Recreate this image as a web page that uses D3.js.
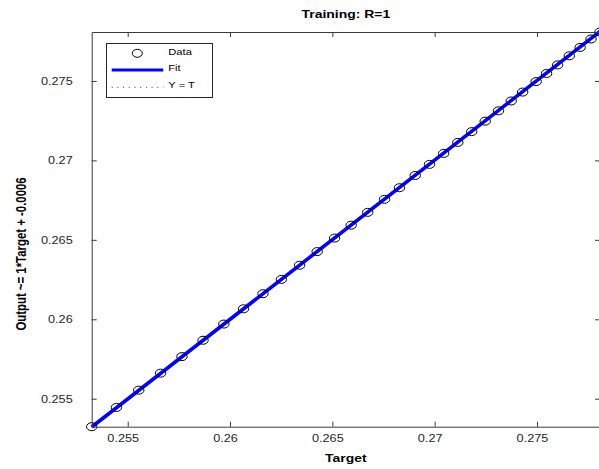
<!DOCTYPE html>
<html>
<head>
<meta charset="utf-8">
<script src="https://cdn.jsdelivr.net/npm/d3@7"></script>
<style>
  html, body { margin: 0; padding: 0; background: #fff; }
  svg { display: block; font-family: "Liberation Sans", Arial, Helvetica, sans-serif; }
</style>
</head>
<body>
<svg id="chart" width="599" height="469"></svg>
<script>
// Regression of network outputs against targets (training set)
const targets = [
  0.25324, 0.25445, 0.25554, 0.25661, 0.25765, 0.25868, 0.25970, 0.26066,
  0.26161, 0.26251, 0.26340, 0.26426, 0.26511, 0.26592, 0.26673, 0.26755,
  0.26828, 0.26905, 0.26975, 0.27044, 0.27113, 0.27181, 0.27247, 0.27312,
  0.27374, 0.27430, 0.27496, 0.27547, 0.27601, 0.27658, 0.27711, 0.27764,
  0.27808
];
const outputs = [
  0.25324, 0.25445, 0.25554, 0.25661, 0.25765, 0.25868, 0.25970, 0.26066,
  0.26161, 0.26251, 0.26340, 0.26426, 0.26511, 0.26592, 0.26673, 0.26755,
  0.26828, 0.26905, 0.26975, 0.27044, 0.27113, 0.27181, 0.27247, 0.27312,
  0.27374, 0.27430, 0.27496, 0.27547, 0.27601, 0.27658, 0.27711, 0.27764,
  0.27808
];
const tickValues = [0.255, 0.26, 0.265, 0.27, 0.275];
const tickLabels = ["0.255", "0.26", "0.265", "0.27", "0.275"];
const fitSlope = 1.0023;
const fitIntercept = -0.0006;
const rValue = 1;
const legendLabels = ["Data", "Fit", "Y = T"];

// glyphs are drawn slightly wider than tall
const sx = 1.27;

const svg = d3.select("#chart");
const box = { left: 91.7, right: 600, top: 32, bottom: 426.7 };

const lim = d3.extent(targets.concat(outputs));
const x = d3.scaleLinear().domain(lim).range([box.left, box.right]);
const y = d3.scaleLinear().domain(lim).range([box.bottom, box.top]);

const axisColor = "#3a3a3a";
const textColor = "#262626";

function stretchText(sel, tx, ty, size, anchor, weight) {
  sel.attr("x", null).attr("y", null).attr("dy", null)
    .attr("transform", `translate(${tx},${ty}) scale(${sx},1)`)
    .attr("text-anchor", anchor)
    .attr("font-size", size)
    .attr("font-weight", weight || "normal")
    .attr("fill", textColor);
}

// Y = T reference line (dotted)
const diag = d3.line().x(d => x(d)).y(d => y(d));
svg.append("path")
  .attr("d", diag(lim))
  .attr("fill", "none").attr("stroke", "#000")
  .attr("stroke-width", 1).attr("stroke-dasharray", "1 4");

// fitted regression line
const fitLine = d3.line().x(d => x(d)).y(d => y(fitSlope * d + fitIntercept));
svg.append("path")
  .attr("d", fitLine(lim))
  .attr("fill", "none").attr("stroke", "#0000ff")
  .attr("stroke-width", 3.6);

// data points
svg.append("g").selectAll("ellipse")
  .data(targets.map((t, i) => [t, outputs[i]]))
  .join("ellipse")
  .attr("cx", d => x(d[0])).attr("cy", d => y(d[1]))
  .attr("rx", 5.2).attr("ry", 4)
  .attr("fill", "none").attr("stroke", "#000").attr("stroke-width", 1);

// axes (box with inward ticks)
const fmt = d => tickLabels[tickValues.indexOf(d)];
const gB = svg.append("g").attr("transform", `translate(0,${box.bottom})`)
  .call(d3.axisBottom(x).tickValues(tickValues).tickFormat(fmt).tickSize(-5).tickSizeOuter(0));
const gL = svg.append("g").attr("transform", `translate(${box.left},0)`)
  .call(d3.axisLeft(y).tickValues(tickValues).tickFormat(fmt).tickSize(-5).tickSizeOuter(0));
const gT = svg.append("g").attr("transform", `translate(0,${box.top})`)
  .call(d3.axisTop(x).tickValues(tickValues).tickFormat("").tickSize(-5).tickSizeOuter(0));
const gR = svg.append("g").attr("transform", `translate(${box.right},0)`)
  .call(d3.axisRight(y).tickValues(tickValues).tickFormat("").tickSize(-5).tickSizeOuter(0));

[gB, gL, gT, gR].forEach(g => {
  g.select(".domain").attr("stroke", axisColor).attr("stroke-width", 1);
  g.selectAll(".tick line").attr("stroke", axisColor).attr("stroke-width", 1);
});
gB.selectAll(".tick text").call(stretchText, -5, 15.5, 10, "middle");
gL.selectAll(".tick text").call(stretchText, -19, 3.6, 10, "end");

// titles
svg.append("text").text(`Training: R=${rValue}`)
  .call(stretchText, (box.left + box.right) / 2, 17.5, 11, "middle", "bold")
  .attr("fill", "#000");
svg.append("text").text("Target")
  .call(stretchText, (box.left + box.right) / 2, 462, 11, "middle", "bold")
  .attr("fill", "#000");
const slopeTxt = d3.format(".2~g")(fitSlope);
const icTxt = String(+fitIntercept.toPrecision(2));
svg.append("text").text(`Output ~= ${slopeTxt}*Target + ${icTxt}`)
  .attr("transform", `translate(26,254) scale(${sx},1) rotate(-90)`)
  .attr("text-anchor", "middle").attr("font-size", 11.4)
  .attr("font-weight", "bold").attr("fill", "#000");

// legend
const lg = svg.append("g");
lg.append("rect").attr("x", 106.5).attr("y", 43.5).attr("width", 106).attr("height", 54)
  .attr("fill", "#fff").attr("stroke", "#262626").attr("stroke-width", 1);
lg.append("ellipse").attr("cx", 137.3).attr("cy", 53.3).attr("rx", 5).attr("ry", 4)
  .attr("fill", "none").attr("stroke", "#000").attr("stroke-width", 1);
lg.append("line").attr("x1", 111.7).attr("x2", 163.3).attr("y1", 70).attr("y2", 70)
  .attr("stroke", "#0000ff").attr("stroke-width", 3);
lg.append("line").attr("x1", 111.7).attr("x2", 163.3).attr("y1", 87.3).attr("y2", 87.3)
  .attr("stroke", "#000").attr("stroke-width", 0.8).attr("stroke-dasharray", "1 4.7");
[54.5, 71, 87.7].forEach((by, i) => {
  lg.append("text").text(legendLabels[i])
    .call(stretchText, 168.3, by, 8.8, "start")
    .attr("fill", "#000");
});
</script>
</body>
</html>
